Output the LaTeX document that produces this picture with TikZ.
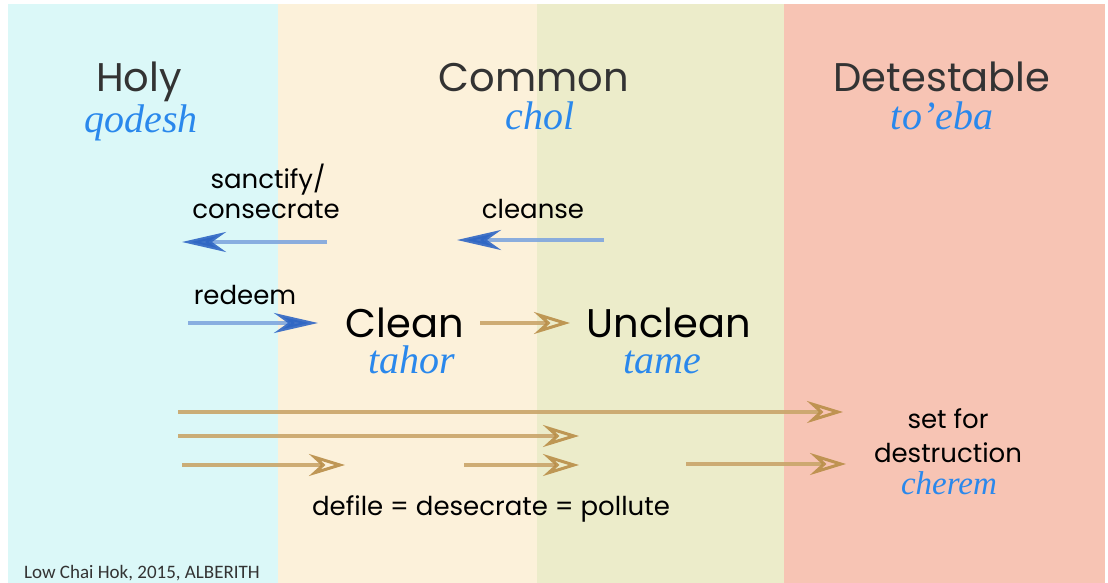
\documentclass[tikz,border=0pt]{standalone}
\usepackage{fontspec}
\setmainfont{Poppins}
\newfontfamily\hebfont{Liberation Serif}
\newfontfamily\credfont{Carlito}
\usetikzlibrary{arrows.meta}
\definecolor{bandholy}{HTML}{DBF8F8}
\definecolor{bandclean}{HTML}{FCF1DA}
\definecolor{bandunclean}{HTML}{ECECCA}
\definecolor{banddet}{HTML}{F7C4B4}
\definecolor{headgray}{HTML}{333333}
\definecolor{hebblue}{HTML}{2A88EC}
\definecolor{pencilblue}{HTML}{7FA6DE}
\definecolor{pencilbluedark}{HTML}{2F66C4}
\definecolor{penciltan}{HTML}{C9A56A}
\definecolor{penciltandark}{HTML}{B98E48}
\newcommand\fsz[2]{\fontsize{#1}{#2}\selectfont}
\tikzset{
  x=1pt, y=-1pt,
  headtxt/.style={font=\fsz{40}{48}, text=headgray, inner sep=0pt, anchor=base,
    text height=0.75em, text depth=0.2em},
  hebtxt/.style={font=\hebfont\itshape\fsz{40}{44}, text=hebblue, inner sep=0pt, anchor=base,
    text height=0.68em, text depth=0.2em},
  verbtxt/.style={font=\fsz{26}{30}, text=black, inner sep=0pt, anchor=base},
  statetxt/.style={font=\fsz{40}{48}, text=black, inner sep=0pt, anchor=base,
    text height=0.75em, text depth=0.12em},
  bluearrow/.style={line width=4pt, draw=pencilblue, opacity=0.9,
    -{Stealth[length=44pt, width=20pt, inset=14pt, color=pencilbluedark]}},
  tanarrow/.style={line width=4pt, draw=penciltan, opacity=0.9,
    -{Stealth[open, length=36pt, width=22pt, inset=12pt, line width=3pt, color=penciltandark]}},
}
\begin{document}
\begin{tikzpicture}
\path[use as bounding box] (0,0) rectangle (1108,583);
\fill[white] (0,0) rectangle (1108,583);
% bands
\fill[bandholy] (8,4) rectangle (278,583);
\fill[bandclean] (278,4) rectangle (537,583);
\fill[bandunclean] (537,4) rectangle (784,583);
\fill[banddet] (784,4) rectangle (1105,583);
% headings
\node[headtxt] (holy) at (139,92) {Holy};
\node[headtxt] (common) at (534,92) {Common};
\node[headtxt] (detest) at (942,92) {Detestable};
\node[hebtxt] (qodesh) at (141,133) {qodesh};
\node[hebtxt] (chol) at (540,129) {chol};
\node[hebtxt] (toeba) at (942,129) {to’eba};
% verbs
\node[verbtxt] (sanct) at (268,188) {sanctify/};
\node[verbtxt] (consec) at (266,218) {consecrate};
\node[verbtxt] (cleanse) at (533,218) {cleanse};
\node[verbtxt] (redeem) at (245,304) {redeem};
% states
\node[statetxt] (clean) at (405,337) {Clean};
\node[statetxt] (unclean) at (669,337) {Unclean};
\node[hebtxt] (tahor) at (412,373) {tahor};
\node[hebtxt] (tame) at (662,373) {tame};
% destruction
\node[verbtxt] (setfor) at (948,428) {set for};
\node[verbtxt] (destr) at (948,462) {destruction};
\node[hebtxt, font=\hebfont\itshape\fsz{33}{36}] (cherem) at (949,494) {cherem};
\node[verbtxt] (defile) at (491,515) {defile = desecrate = pollute};
\node[font=\credfont\fsz{19}{22}, text=headgray, inner sep=0pt, anchor=base west] (credit) at (24,578) {Low Chai Hok, 2015, ALBERITH};
% arrow end points
\coordinate (sanctS) at (327,242);
\coordinate (sanctE) at (182,242);
\coordinate (cleanseS) at (604,240);
\coordinate (cleanseE) at (457,240);
\coordinate (redeemS) at (188,323);
\coordinate (redeemE) at (318,323);
\coordinate (cuS) at (480,323);
\coordinate (cuE) at (570,323);
\coordinate (l1S) at (178,412);
\coordinate (l1E) at (843,412);
\coordinate (l2S) at (178,436);
\coordinate (l2E) at (579,436);
\coordinate (l3aS) at (182,465);
\coordinate (l3aE) at (345,465);
\coordinate (l3bS) at (464,465);
\coordinate (l3bE) at (579,465);
\coordinate (l3cS) at (686,464);
\coordinate (l3cE) at (846,464);
% arrows
\draw[bluearrow] (sanctS) -- (sanctE);
\draw[bluearrow] (cleanseS) -- (cleanseE);
\draw[bluearrow] (redeemS) -- (redeemE);
\draw[tanarrow] (cuS) -- (cuE);
\draw[tanarrow] (l1S) -- (l1E);
\draw[tanarrow] (l2S) -- (l2E);
\draw[tanarrow] (l3aS) -- (l3aE);
\draw[tanarrow] (l3bS) -- (l3bE);
\draw[tanarrow] (l3cS) -- (l3cE);
\end{tikzpicture}
\end{document}
